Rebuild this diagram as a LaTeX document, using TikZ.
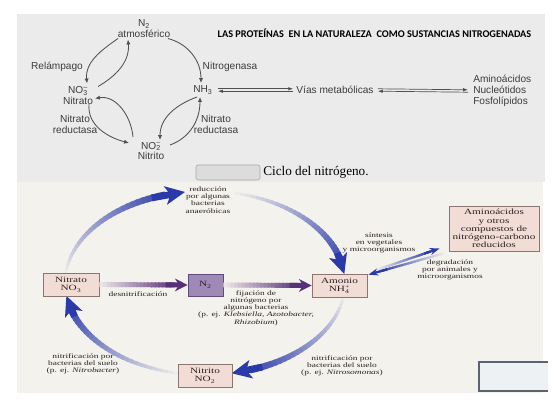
\documentclass[tikz,border=0pt]{standalone}
\usepackage{fontspec}
\setmainfont{Liberation Serif}
\newfontfamily\topfont{Liberation Sans}
\newfontfamily\titlefont{Carlito}
\newfontfamily\figfont[FakeStretch=1.4]{Liberation Serif}
\usetikzlibrary{arrows.meta, calc}

\definecolor{panelgris}{HTML}{EBEBEB}
\definecolor{fondocrema}{HTML}{F4F2EC}
\definecolor{cajarosa}{HTML}{F2DDD6}
\definecolor{bordecaja}{HTML}{8C7470}
\definecolor{cajalila}{HTML}{9F89B6}
\definecolor{bordelila}{HTML}{5F4B7C}
\definecolor{azulanillo}{HTML}{2A3AA8}
\definecolor{morado}{HTML}{57307A}
\definecolor{textogris}{HTML}{3C3C3C}
\definecolor{lineagris}{HTML}{505050}
\definecolor{textofig}{HTML}{2A2222}
\definecolor{grisetiqueta}{HTML}{DCDCDC}
\definecolor{grisborde}{HTML}{A8A8A8}
\definecolor{grisazul}{HTML}{5A6470}
\definecolor{blancoazul}{HTML}{EEF1F4}

\newcommand\subsup[2]{\rlap{\textsubscript{#1}}\textsuperscript{#2}}

% ring of the cycle, in px
\newcommand\ringx{205}
\newcommand\ringy{283}
% \ringarc{start angle}{end angle}
\newcommand\ringarc[2]{%
  \foreach \seg in {0,...,27}{%
    \pgfmathsetmacro\angA{#1+(#2-#1)*\seg/32}%
    \pgfmathsetmacro\angB{#1+(#2-#1)*(\seg+1.5)/32}%
    \pgfmathsetmacro\pc{4+\seg*3.2}%
    \pgfmathsetmacro\lw{1.8+\seg*0.11}%
    \draw[line width=\lw pt, azulanillo!\pc!fondocrema] ({\ringx+140*cos(\angA)},{-\ringy+92*sin(\angA)}) -- ({\ringx+140*cos(\angB)},{-\ringy+92*sin(\angB)});
  }%
  \pgfmathsetmacro\angC{#1+(#2-#1)*26/32}%
  \draw[line width=4.8pt, azulanillo, -{Stealth[length=14pt,width=13pt,inset=3.5pt]}] ({\ringx+140*cos(\angC)},{-\ringy+92*sin(\angC)}) -- ({\ringx+140*cos(#2)},{-\ringy+92*sin(#2)});
}
% \gradarrow{from}{to}{colour}{line width}{tip length}{tip width}
\newcommand\gradarrow[6]{%
  \foreach \seg in {0,...,19}{%
    \pgfmathsetmacro\tA{\seg/24}%
    \pgfmathsetmacro\tB{(\seg+1.4)/24}%
    \pgfmathsetmacro\pc{6+\seg*4.6}%
    \draw[line width=#4, #3!\pc!fondocrema] ($#1!\tA!#2$) -- ($#1!\tB!#2$);
  }%
  \draw[line width=#4, #3, -{Stealth[length=#5,width=#6]}] ($#1!18/24!#2$) -- #2;
}

\begin{document}
\begin{tikzpicture}[x=0.025cm, y=0.025cm, align=center,
  sans/.style={inner sep=0pt, text=textogris, font=\topfont\fontsize{7.2}{7.8}\selectfont},
  fina/.style={-{Latex[length=3.5pt,width=3pt]}, draw=lineagris, line width=0.6pt},
  doble/.style={-{Latex[length=3.5pt,width=2.5pt]}, draw=lineagris, line width=0.5pt},
  caja/.style={draw=bordecaja, fill=cajarosa, line width=0.5pt, inner sep=0pt, text=textofig, font=\figfont\fontsize{5.7}{6.2}\selectfont},
  rotulo/.style={inner sep=0pt, text=textofig, font=\figfont\fontsize{4.8}{5.1}\selectfont}]
\useasboundingbox (0,0) rectangle (560,-420);
\fill[white] (0,0) rectangle (560,-420);
\fill[panelgris] (17,-14) rectangle (545,-182);
\fill[fondocrema] (17,-182) rectangle (543,-393);

% upper panel
\path (144,-28.5) node[sans] (atm) {N\textsubscript{2}\\atmosférico}
      (57,-67) node[sans] (relampago) {Relámpago}
      (230,-67) node[sans] (nitrogenasa) {Nitrogenasa}
      (78,-95.5) node[sans] (nitrato) {NO\subsup{3}{–}\\Nitrato}
      (203,-90) node[sans] (amoniaco) {NH\textsubscript{3}}
      (151,-151) node[sans] (nitrito) {NO\subsup{2}{–}\\Nitrito}
      (75,-124) node[sans] (redizq) {Nitrato\\reductasa}
      (216,-124) node[sans] (redder) {Nitrato\\reductasa}
      (335,-90) node[sans] (vias) {Vías metabólicas}
      (473,-91) node[sans, anchor=west, align=left] (biomol) {Aminoácidos\\Nucleótidos\\Fosfolípidos}
      (374.5,-33) node[inner sep=0pt, font=\titlefont\bfseries\fontsize{7.3}{8}\selectfont] (titulo) {LAS PROTEÍNAS\ \ EN LA NATURALEZA\ \ COMO SUSTANCIAS NITROGENADAS}
      (228,-172.5) node[draw=grisborde, fill=grisetiqueta, rounded corners=1.5pt, minimum width=1.6cm, minimum height=0.375cm] (etiqueta) {}
      (263,-172) node[anchor=west, inner sep=0pt, font=\fontsize{9.4}{10}\selectfont] (leyenda) {Ciclo del nitrógeno.};

\draw[fina] ($(atm)+(-26,-10)$) to[out=215,in=95] ($(nitrato)+(9,12)$);
\draw[fina] ($(nitrato)+(20,9)$) to[out=30,in=-85] ($(atm)+(-16,-11)$);
\draw[fina] ($(atm)+(24,-10)$) to[out=-15,in=90] ($(amoniaco)+(-2,7)$);
\draw[fina] ($(nitrato)+(11,-8.5)$) to[out=-95,in=165] ($(nitrito)+(-22,8)$);
\draw[fina] ($(nitrito)+(-18,14)$) to[out=95,in=10] ($(nitrato)+(17,-3)$);
\draw[fina] ($(amoniaco)+(-6,-7)$) to[out=200,in=90] ($(nitrito)+(9,11)$);
\draw[fina] ($(nitrito)+(19,6)$) to[out=20,in=-90] ($(amoniaco)+(-3,-7)$);

\draw[doble] ($(amoniaco.east)+(5,1.2)$) -- ($(vias.west)+(-3,1.2)$);
\draw[doble] ($(vias.west)+(-3,-1.2)$) -- ($(amoniaco.east)+(5,-1.2)$);
\draw[doble] ($(vias.east)+(4,1.2)$) -- ($(biomol.west)+(-5,1.2)$);
\draw[doble] ($(biomol.west)+(-5,-1.2)$) -- ($(vias.east)+(4,-1.2)$);

% lower figure
\ringarc{173.7}{98.2}
\ringarc{77.6}{5.6}
\ringarc{-8.7}{-79}
\ringarc{259}{188}

\path (71,-284.5) node[caja, minimum width=1.4cm, minimum height=0.575cm] (nitratob) {Nitrato\\NO\textsubscript{3}}
      (205.5,-285) node[caja, draw=bordelila, fill=cajalila, minimum width=0.875cm, minimum height=0.55cm] (ntwo) {N\textsubscript{2}}
      (339.5,-285.5) node[caja, minimum width=1.375cm, minimum height=0.575cm] (amonio) {Amonio\\NH\subsup{4}{+}}
      (205,-375.5) node[caja, minimum width=1.35cm, minimum height=0.575cm] (nitritob) {Nitrito\\NO\textsubscript{2}}
      (494,-228.5) node[caja, minimum width=2.25cm, minimum height=1.125cm, font=\figfont\fontsize{5.7}{5.8}\selectfont] (aminos) {Aminoácidos\\y otros\\compuestos de\\nitrógeno-carbono\\reducidos}
      (208,-200) node[rotulo] (reduccion) {reducción\\por algunas\\bacterias\\anaeróbicas}
      (138,-294) node[rotulo] (desnitri) {desnitrificación}
      (256,-308) node[rotulo] (fijacion) {fijación de\\nitrógeno por\\algunas bacterias\\(p. ej. \textit{Klebsiella, Azotobacter,}\\\textit{Rhizobium})}
      (379,-243) node[rotulo] (sintesis) {síntesis\\en vegetales\\y microorganismos}
      (450,-270) node[rotulo] (degradacion) {degradación\\por animales y\\microorganismos}
      (342,-366) node[rotulo] (nitrifder) {nitrificación por\\bacterias del suelo\\(p. ej. \textit{Nitrosomonas})}
      (83,-364) node[rotulo] (nitrifizq) {nitrificación por\\bacterias del suelo\\(p. ej. \textit{Nitrobacter})};

\gradarrow{(nitratob.east)}{(ntwo.west)}{morado}{3.5pt}{9pt}{9pt}
\gradarrow{(ntwo.east)}{(amonio.west)}{morado}{3.5pt}{9pt}{9pt}
\gradarrow{($(amonio.north east)+(10,4)$)}{($(aminos.south west)+(-9,3)$)}{azulanillo}{1.6pt}{7pt}{5pt}
\gradarrow{($(aminos.south west)+(-5,-2)$)}{($(amonio.north east)+(1,-1)$)}{azulanillo}{1.6pt}{7pt}{5pt}

\draw[line width=1.2pt, draw=grisazul, fill=blancoazul] (548,-362) -- (479,-362) -- (479,-391) -- (548,-391);
\end{tikzpicture}
\end{document}
